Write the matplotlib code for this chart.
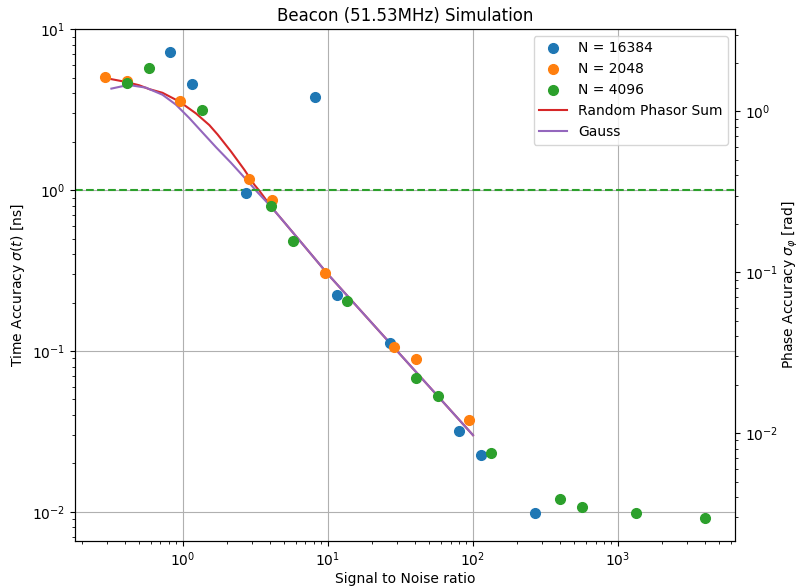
import numpy as np
import matplotlib
matplotlib.use("Agg")
import matplotlib.pyplot as plt

# measured points: signal to noise ratio vs time accuracy [ns]
snr_16384 = [0.81, 1.15, 8.13, 2.72, 11.5, 26.8, 80, 113, 268]
sig_16384 = [7.2, 4.55, 3.78, 0.96, 0.223, 0.112, 0.032, 0.0226, 0.0099]

snr_2048 = [0.29, 0.41, 0.955, 2.85, 4.11, 9.5, 28.5, 40.5, 93.8]
sig_2048 = [5.03, 4.75, 3.57, 1.17, 0.87, 0.305, 0.106, 0.089, 0.0373]

snr_4096 = [0.41, 0.58, 1.35, 4.05, 5.74, 13.5, 40.5, 57.4, 133, 398, 565, 1330, 3980]
sig_4096 = [4.62, 5.73, 3.14, 0.796, 0.482, 0.205, 0.068, 0.0526, 0.0232,
            0.0121, 0.0107, 0.0099, 0.0092]

# model curves
snr_phasor = [0.321, 0.404, 0.499, 0.585, 0.723, 0.943, 1.23, 1.52, 1.733, 2.145,
              2.65, 3.11, 3.37, 4.05, 5.01, 7.0, 10, 20, 50, 100]
sig_phasor = [4.90, 4.71, 4.49, 4.25, 4.03, 3.56, 3.0, 2.54, 2.22, 1.74,
              1.34, 1.08, 0.99, 0.79, 0.63, 0.44, 0.30, 0.15, 0.06, 0.030]

snr_gauss = [0.321, 0.383, 0.449, 0.555, 0.723, 0.895, 1.105, 1.366, 1.69, 2.145,
             2.65, 3.27, 4.05, 5.01, 7.0, 10, 20, 50, 100]
sig_gauss = [4.28, 4.43, 4.47, 4.34, 3.92, 3.40, 2.81, 2.28, 1.85, 1.48,
             1.20, 0.97, 0.79, 0.63, 0.44, 0.30, 0.15, 0.06, 0.030]

f_beacon = 51.53e6  # Hz
to_phase = 2 * np.pi * f_beacon * 1e-9  # ns -> rad

fig = plt.figure(figsize=(8.01, 5.87), dpi=100)
ax = fig.add_axes([0.0936, 0.0784, 0.824, 0.8722])

ax.plot(snr_16384, sig_16384, 'o', color='C0', ms=7, zorder=3, label='N = 16384')
ax.plot(snr_2048, sig_2048, 'o', color='C1', ms=7, zorder=3, label='N = 2048')
ax.plot(snr_4096, sig_4096, 'o', color='C2', ms=7, zorder=3, label='N = 4096')
ax.plot(snr_phasor, sig_phasor, color='C3', label='Random Phasor Sum')
ax.plot(snr_gauss, sig_gauss, color='C4', label='Gauss')

ax.set_xscale('log')
ax.set_yscale('log')
ax.axhline(1, color='C2', ls='--', lw=1.5)
ax.grid(True, which='major', color='#b0b0b0', lw=0.8)

ax.set_xlabel('Signal to Noise ratio', labelpad=2)
ax.set_ylabel(r'Time Accuracy $\sigma(t)$ [ns]')
ax.set_title('Beacon (51.53MHz) Simulation')
ax.legend(loc='upper right')

ax2 = ax.twinx()
ax2.set_yscale('log')
lo, hi = ax.get_ylim()
ax2.set_ylim(lo * to_phase, hi * to_phase)
ax2.set_ylabel(r'Phase Accuracy $\sigma_\varphi$ [rad]', labelpad=2)

fig.savefig('out.png', dpi=100)
